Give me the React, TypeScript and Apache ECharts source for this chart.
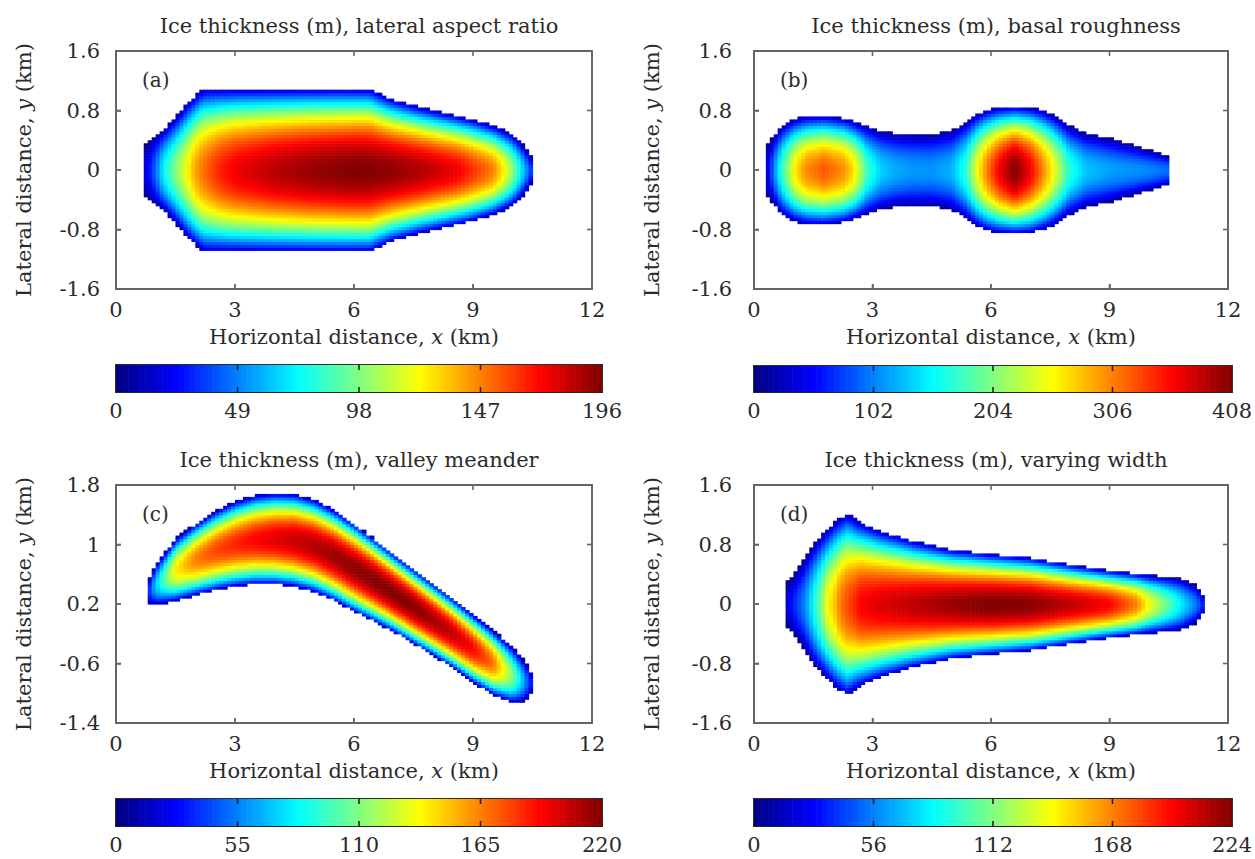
import React, { useEffect, useRef } from "react";
import * as echarts from "echarts";

const FONT = '"DejaVu Serif", "Liberation Serif", serif';
const TXT = "#2b2b2b";
const JET = ["#000080", "#0000ff", "#0080ff", "#00ffff", "#80ff80", "#ffff00", "#ff8000", "#ff0000", "#800000"];

// ---- Panel (a): lateral aspect ratio (symmetric outline) ----
const A_X = [0.78, 1.0, 1.2, 1.5, 1.8, 2.0, 2.2, 2.6, 3.0, 4.0, 5.0, 6.0, 6.4, 6.9, 7.7, 8.6, 9.0, 9.5, 9.8, 10.0, 10.2, 10.4, 10.5];
const A_HALF = [0.35, 0.47, 0.55, 0.71, 0.9, 1.0, 1.09, 1.09, 1.09, 1.09, 1.09, 1.09, 1.09, 0.96, 0.84, 0.73, 0.68, 0.6, 0.53, 0.48, 0.38, 0.25, 0.15];
const A_THICK = [20, 45, 73, 98, 122, 140, 150, 165, 174, 185, 192, 196, 195, 193, 186, 174, 162, 147, 122, 100, 73, 45, 30];

// ---- Panel (b): basal roughness ----
const B_X = [0.37, 0.47, 0.7, 0.9, 1.05, 1.3, 1.77, 2.25, 2.5, 2.65, 2.87, 3.2, 3.6, 4.0, 4.5, 5.0, 5.37, 5.67, 5.9, 6.2, 6.6, 7.0, 7.3, 7.57, 7.97, 8.4, 9.0, 9.5, 10.0, 10.47];
const B_HALF = [0.36, 0.44, 0.6, 0.66, 0.69, 0.72, 0.73, 0.7, 0.66, 0.63, 0.59, 0.53, 0.49, 0.48, 0.48, 0.53, 0.65, 0.76, 0.81, 0.84, 0.85, 0.84, 0.8, 0.74, 0.6, 0.5, 0.43, 0.35, 0.27, 0.2];
const B_THICK = [40, 90, 170, 225, 262, 300, 322, 300, 270, 235, 175, 135, 118, 112, 110, 122, 170, 255, 306, 360, 408, 360, 306, 255, 170, 130, 115, 110, 105, 95];

// ---- Panel (c): valley meander (upper / lower edges) ----
const C_X = [0.8, 1.0, 1.5, 2.0, 2.5, 3.0, 3.5, 4.0, 4.5, 5.0, 5.5, 6.0, 6.5, 7.0, 7.5, 8.0, 8.5, 9.0, 9.5, 10.0, 10.3, 10.45];
const C_TOP = [0.52, 0.74, 1.08, 1.28, 1.45, 1.58, 1.66, 1.69, 1.68, 1.6, 1.46, 1.28, 1.08, 0.87, 0.67, 0.47, 0.27, 0.06, -0.15, -0.38, -0.55, -0.7];
const C_BOT = [0.2, 0.18, 0.24, 0.32, 0.39, 0.44, 0.47, 0.47, 0.44, 0.37, 0.25, 0.1, -0.03, -0.17, -0.33, -0.49, -0.66, -0.85, -1.02, -1.13, -1.12, -1.0];
const C_THICK = [30, 70, 140, 165, 177, 185, 192, 198, 204, 209, 214, 217, 219, 220, 218, 212, 205, 192, 168, 110, 60, 35];

// ---- Panel (d): varying width ----
const D_X = [0.85, 1.0, 1.27, 1.5, 1.7, 1.87, 2.07, 2.17, 2.37, 2.6, 2.67, 3.2, 4.0, 5.0, 6.0, 7.0, 8.0, 9.0, 9.67, 9.97, 10.37, 10.77, 11.17, 11.37];
const D_HALF = [0.3, 0.38, 0.6, 0.8, 0.92, 1.0, 1.12, 1.15, 1.22, 1.12, 1.1, 0.98, 0.85, 0.73, 0.67, 0.62, 0.53, 0.45, 0.41, 0.39, 0.37, 0.35, 0.26, 0.12];
const D_THICK = [20, 35, 56, 84, 112, 140, 155, 168, 180, 190, 196, 203, 210, 218, 224, 222, 210, 196, 168, 140, 112, 84, 56, 35];

const TITLES = [
  "Ice thickness (m), lateral aspect ratio",
  "Ice thickness (m), basal roughness",
  "Ice thickness (m), valley meander",
  "Ice thickness (m), varying width",
];
const TAGS = ["(a)", "(b)", "(c)", "(d)"];
const X_MIN = 0, X_MAX = 12, X_STEP = 3;
const Y_MINS = [-1.6, -1.6, -1.4, -1.6];
const Y_MAXS = [1.6, 1.6, 1.8, 1.6];
const Y_STEP = 0.8;
const CBAR_MAX = [196, 408, 220, 224];

// ---- layout ----
const PLOT = [
  { left: 116, top: 51, width: 476, height: 238 },
  { left: 754, top: 51, width: 474, height: 238 },
  { left: 116, top: 485, width: 476, height: 238 },
  { left: 754, top: 485, width: 474, height: 238 },
];
const CBAR = [
  { left: 116, top: 365, width: 486, height: 27 },
  { left: 754, top: 366, width: 484, height: 26 },
  { left: 116, top: 799, width: 486, height: 27 },
  { left: 754, top: 799, width: 484, height: 27 },
];
const YLABEL_MARGIN = [16, 22, 16, 22];
const YNAME_GAP = [82, 92, 82, 92];
const DX = 0.1, DY = 0.04, NCB = 200;
const FS = 21;
const BOX = "#666";

function lerp(xs: number[], vs: number[], x: number) {
  if (x <= xs[0]) return vs[0];
  if (x >= xs[xs.length - 1]) return vs[vs.length - 1];
  let i = 0;
  while (i < xs.length - 2 && x > xs[i + 1]) i++;
  const t = (x - xs[i]) / (xs[i + 1] - xs[i]);
  return vs[i] + t * (vs[i + 1] - vs[i]);
}

function cells(xs: number[], top: number[], bot: number[], thick: number[], yMin: number, yMax: number) {
  const out: number[][] = [];
  const nCol = Math.round((X_MAX - X_MIN) / DX);
  const nRow = Math.round((yMax - yMin) / DY);
  for (let i = 0; i < nCol; i++) {
    const x = X_MIN + (i + 0.5) * DX;
    if (x < xs[0] - DX * 0.3 || x > xs[xs.length - 1] + DX * 0.3) continue;
    const t = lerp(xs, top, x), b = lerp(xs, bot, x), h = lerp(xs, thick, x);
    const yc = (t + b) / 2, hw = (t - b) / 2;
    for (let j = 0; j < nRow; j++) {
      const y = yMin + (j + 0.5) * DY;
      const s = (y - yc) / hw;
      if (Math.abs(s) > 1) continue;
      out.push([x, y, h * (1 - 0.92 * s * s)]);
    }
  }
  return out;
}

function ticks(min: number, max: number, step: number) {
  const out: number[] = [];
  for (let v = min; v <= max + step * 1e-6; v += step) out.push(+v.toFixed(6));
  return out;
}

const neg = (a: number[]) => a.map((v) => -v);

export default function App() {
  const ref = useRef<HTMLDivElement>(null);
  useEffect(() => {
    if (!ref.current) return;
    const chart = echarts.init(ref.current, null, { renderer: "svg" });
    const fields = [
      cells(A_X, A_HALF, neg(A_HALF), A_THICK, Y_MINS[0], Y_MAXS[0]),
      cells(B_X, B_HALF, neg(B_HALF), B_THICK, Y_MINS[1], Y_MAXS[1]),
      cells(C_X, C_TOP, C_BOT, C_THICK, Y_MINS[2], Y_MAXS[2]),
      cells(D_X, D_HALF, neg(D_HALF), D_THICK, Y_MINS[3], Y_MAXS[3]),
    ];
    const label = { color: TXT, fontFamily: FONT, fontSize: FS };
    const grids: any[] = [];
    const xAxes: any[] = [];
    const yAxes: any[] = [];
    const series: any[] = [];
    const visualMaps: any[] = [];
    const titles: any[] = [];
    const tagTexts: any[] = [];
    const line = (c: string, w: number) => ({ show: true, onZero: false, lineStyle: { color: c, width: w } });
    const tick = (c: string) => ({ show: true, inside: true, length: 5, lineStyle: { color: c, width: 1.5 } });

    PLOT.forEach((p, i) => {
      grids.push({ ...p, show: true, borderColor: BOX, borderWidth: 2, backgroundColor: "transparent" });
      xAxes.push({
        type: "value", gridIndex: i, min: X_MIN, max: X_MAX, interval: X_STEP, position: "bottom",
        axisLine: line(BOX, 2), axisTick: tick(BOX), splitLine: { show: false },
        axisLabel: { ...label, margin: 10 },
        name: "Horizontal distance, {i|x} (km)", nameLocation: "middle", nameGap: 37,
        nameTextStyle: { ...label, rich: { i: { ...label, fontStyle: "italic" } } },
      });
      yAxes.push({
        type: "value", gridIndex: i, min: Y_MINS[i], max: Y_MAXS[i], interval: Y_STEP, position: "left",
        axisLine: line(BOX, 2), axisTick: tick(BOX), splitLine: { show: false },
        axisLabel: { ...label, margin: YLABEL_MARGIN[i] },
        name: "Lateral distance, {i|y} (km)", nameLocation: "middle", nameGap: YNAME_GAP[i], nameRotate: 90,
        nameTextStyle: { ...label, rich: { i: { ...label, fontStyle: "italic" } } },
      });
      titles.push({
        text: TITLES[i], left: p.left + p.width / 2, top: p.top - 41, textAlign: "center",
        textStyle: { ...label, fontWeight: "normal" },
      });
      tagTexts.push({
        type: "text", left: p.left + 26, top: p.top + 19, z: 100,
        style: { text: TAGS[i], font: `${FS - 1}px ${FONT}`, fill: TXT },
      });
    });

    CBAR.forEach((c, k) => {
      const gi = 4 + k;
      grids.push({ ...c, show: true, borderColor: "#222", borderWidth: 1.5, backgroundColor: "transparent" });
      xAxes.push({
        type: "value", gridIndex: gi, min: 0, max: CBAR_MAX[k], interval: CBAR_MAX[k] / 4, position: "bottom",
        axisLine: line("#222", 1.5), axisTick: { show: false }, splitLine: { show: false },
        axisLabel: { ...label, margin: 8 },
      });
      yAxes.push({ type: "value", gridIndex: gi, min: 0, max: 1, show: false });
    });

    fields.forEach((data, i) => {
      series.push({
        type: "custom", xAxisIndex: i, yAxisIndex: i, data, clip: false, z: 2,
        dimensions: ["x", "y", "h"], encode: { x: 0, y: 1 },
        renderItem: (params: any, api: any) => {
          const x = api.value(0), y = api.value(1);
          const p0 = api.coord([x - DX / 2, y + DY / 2]);
          const p1 = api.coord([x + DX / 2, y - DY / 2]);
          return {
            type: "rect",
            shape: { x: p0[0], y: p0[1], width: p1[0] - p0[0] + 0.6, height: p1[1] - p0[1] + 0.6 },
            style: { fill: api.visual("color") },
          };
        },
      });
    });
    CBAR_MAX.forEach((vmax, k) => {
      const dv = vmax / NCB;
      const data = Array.from({ length: NCB }, (_, n) => [(n + 0.5) * dv, 0.5, (n + 0.5) * dv]);
      series.push({
        type: "custom", xAxisIndex: 4 + k, yAxisIndex: 4 + k, data, clip: false, z: 2,
        dimensions: ["v", "y", "h"], encode: { x: 0, y: 1 },
        renderItem: (params: any, api: any) => {
          const v = api.value(0);
          const p0 = api.coord([v - dv / 2, 1]);
          const p1 = api.coord([v + dv / 2, 0]);
          return {
            type: "rect",
            shape: { x: p0[0], y: p0[1], width: p1[0] - p0[0] + (v + dv < vmax ? 0.6 : 0), height: p1[1] - p0[1] },
            style: { fill: api.visual("color") },
          };
        },
      });
    });
    CBAR_MAX.forEach((vmax, k) => {
      visualMaps.push({
        type: "continuous", show: false, min: 0, max: vmax, dimension: 2,
        seriesIndex: [k, 4 + k], inRange: { color: JET },
      });
    });

    chart.setOption({
      animation: false,
      backgroundColor: "#fff",
      title: titles,
      grid: grids,
      xAxis: xAxes,
      yAxis: yAxes,
      visualMap: visualMaps,
      series,
      graphic: tagTexts,
    });

    // Frames (box + inside ticks) positioned through the axes' own scales, drawn before the fields
    const frames: any[] = [];
    const bar = (x: number, y: number, w: number, h: number, fill: string, z: number) =>
      frames.push({ type: "rect", z, silent: true, shape: { x, y, width: w, height: h }, style: { fill } });
    const addFrame = (gi: number, x0: number, x1: number, y0: number, y1: number,
      xt: number[], yt: number[], color: string, lw: number, tc: string, tz: number) => {
      const f = { xAxisIndex: gi, yAxisIndex: gi };
      const tl = chart.convertToPixel(f, [x0, y1]) as number[];
      const br = chart.convertToPixel(f, [x1, y0]) as number[];
      const L = 5, tw = 1.6;
      xt.forEach((v) => {
        const px = (chart.convertToPixel(f, [v, y0]) as number[])[0];
        bar(px - tw / 2, br[1] - L, tw, L, tc, tz);
        bar(px - tw / 2, tl[1], tw, L, tc, tz);
      });
      yt.forEach((v) => {
        const py = (chart.convertToPixel(f, [x0, v]) as number[])[1];
        bar(tl[0], py - tw / 2, L, tw, tc, tz);
        bar(br[0] - L, py - tw / 2, L, tw, tc, tz);
      });
      const W = br[0] - tl[0], H = br[1] - tl[1];
      bar(tl[0] - lw / 2, tl[1] - lw / 2, W + lw, lw, color, 1);
      bar(tl[0] - lw / 2, br[1] - lw / 2, W + lw, lw, color, 1);
      bar(tl[0] - lw / 2, tl[1] - lw / 2, lw, H + lw, color, 1);
      bar(br[0] - lw / 2, tl[1] - lw / 2, lw, H + lw, color, 1);
    };
    PLOT.forEach((p, i) => {
      addFrame(i, X_MIN, X_MAX, Y_MINS[i], Y_MAXS[i], ticks(X_MIN, X_MAX, X_STEP),
        ticks(Y_MINS[i], Y_MAXS[i], Y_STEP), BOX, 2, BOX, 1);
    });
    CBAR_MAX.forEach((vmax, k) => {
      addFrame(4 + k, 0, vmax, 0, 1, ticks(0, vmax, vmax / 4).slice(1, 4), [], "#222", 1.5, "#222", 50);
    });
    chart.setOption({ graphic: [...tagTexts, ...frames] }, { replaceMerge: ["graphic"] });

    return () => chart.dispose();
  }, []);
  return <div ref={ref} style={{ position: "fixed", left: 0, top: 0, width: 1255, height: 859 }} />;
}
